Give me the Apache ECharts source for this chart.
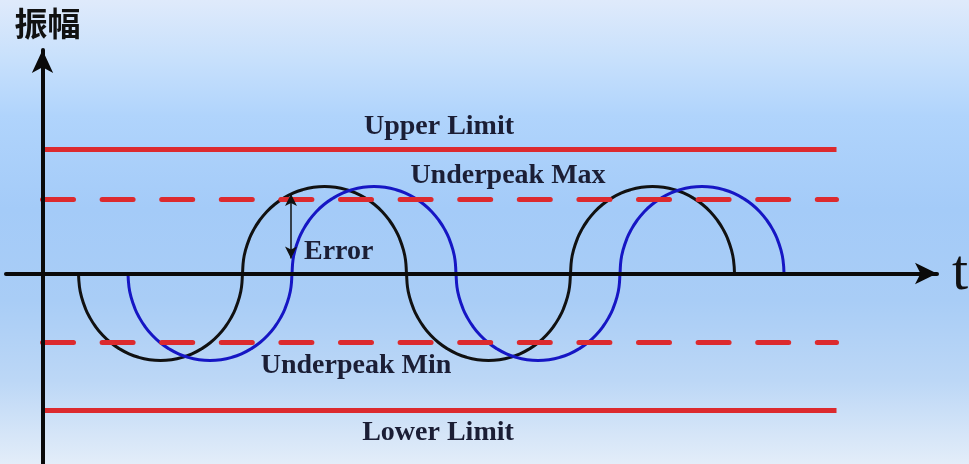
<!DOCTYPE html>
<html>
<head>
<meta charset="utf-8">
<script src="https://cdn.jsdelivr.net/npm/echarts@6/dist/echarts.min.js"></script>
<style>
  html, body { margin: 0; padding: 0; }
  #chart { width: 969px; height: 464px; }
</style>
</head>
<body>
<div id="chart"></div>
<script>
// wave samples: t along the axis, amplitude up/down
var blackT = [
  3.6, 3.7, 3.9, 4.3, 4.7, 5.3, 6.0, 6.8, 7.7, 8.6, 9.6, 10.7, 11.8, 12.9, 14.0, 15.0, 15.9, 16.8, 17.6, 18.3, 18.9, 19.3, 19.7, 19.9, 20.0,
  20.1, 20.3, 20.7, 21.1, 21.7, 22.4, 23.2, 24.1, 25.0, 26.0, 27.1, 28.2, 29.3, 30.4, 31.4, 32.3, 33.2, 34.0, 34.7, 35.3, 35.7, 36.1, 36.3, 36.4,
  36.5, 36.7, 37.1, 37.5, 38.1, 38.8, 39.6, 40.5, 41.4, 42.4, 43.5, 44.6, 45.7, 46.8, 47.8, 48.7, 49.6, 50.4, 51.1, 51.7, 52.1, 52.5, 52.7, 52.8,
  52.9, 53.1, 53.5, 53.9, 54.5, 55.2, 56.0, 56.9, 57.8, 58.8, 59.9, 61.0, 62.1, 63.2, 64.2, 65.1, 66.0, 66.8, 67.5, 68.1, 68.5, 68.9, 69.1, 69.2
];
var blackAmp = [
  0, -1.36, -2.33, -3.52, -4.35, -5.30, -6.15, -6.90, -7.53, -8.01, -8.38, -8.62, -8.70, -8.62, -8.38, -8.01, -7.53, -6.90, -6.15, -5.30, -4.35, -3.52, -2.33, -1.36, 0,
  1.36, 2.33, 3.52, 4.35, 5.30, 6.15, 6.90, 7.53, 8.01, 8.38, 8.62, 8.70, 8.62, 8.38, 8.01, 7.53, 6.90, 6.15, 5.30, 4.35, 3.52, 2.33, 1.36, 0,
  -1.36, -2.33, -3.52, -4.35, -5.30, -6.15, -6.90, -7.53, -8.01, -8.38, -8.62, -8.70, -8.62, -8.38, -8.01, -7.53, -6.90, -6.15, -5.30, -4.35, -3.52, -2.33, -1.36, 0,
  1.36, 2.33, 3.52, 4.35, 5.30, 6.15, 6.90, 7.53, 8.01, 8.38, 8.62, 8.70, 8.62, 8.38, 8.01, 7.53, 6.90, 6.15, 5.30, 4.35, 3.52, 2.33, 1.36, 0
];
var blueT = [
  8.55, 8.65, 8.85, 9.25, 9.65, 10.25, 10.95, 11.75, 12.65, 13.55, 14.55, 15.65, 16.75, 17.85, 18.95, 19.95, 20.85, 21.75, 22.55, 23.25, 23.85, 24.25, 24.65, 24.85, 24.95,
  25.05, 25.25, 25.65, 26.05, 26.65, 27.35, 28.15, 29.05, 29.95, 30.95, 32.05, 33.15, 34.25, 35.35, 36.35, 37.25, 38.15, 38.95, 39.65, 40.25, 40.65, 41.05, 41.25, 41.35,
  41.45, 41.65, 42.05, 42.45, 43.05, 43.75, 44.55, 45.45, 46.35, 47.35, 48.45, 49.55, 50.65, 51.75, 52.75, 53.65, 54.55, 55.35, 56.05, 56.65, 57.05, 57.45, 57.65, 57.75,
  57.85, 58.05, 58.45, 58.85, 59.45, 60.15, 60.95, 61.85, 62.75, 63.75, 64.85, 65.95, 67.05, 68.15, 69.15, 70.05, 70.95, 71.75, 72.45, 73.05, 73.45, 73.85, 74.05, 74.15
];
var blueAmp = [
  0, -1.36, -2.33, -3.52, -4.35, -5.30, -6.15, -6.90, -7.53, -8.01, -8.38, -8.62, -8.70, -8.62, -8.38, -8.01, -7.53, -6.90, -6.15, -5.30, -4.35, -3.52, -2.33, -1.36, 0,
  1.36, 2.33, 3.52, 4.35, 5.30, 6.15, 6.90, 7.53, 8.01, 8.38, 8.62, 8.70, 8.62, 8.38, 8.01, 7.53, 6.90, 6.15, 5.30, 4.35, 3.52, 2.33, 1.36, 0,
  -1.36, -2.33, -3.52, -4.35, -5.30, -6.15, -6.90, -7.53, -8.01, -8.38, -8.62, -8.70, -8.62, -8.38, -8.01, -7.53, -6.90, -6.15, -5.30, -4.35, -3.52, -2.33, -1.36, 0,
  1.36, 2.33, 3.52, 4.35, 5.30, 6.15, 6.90, 7.53, 8.01, 8.38, 8.62, 8.70, 8.62, 8.38, 8.01, 7.53, 6.90, 6.15, 5.30, 4.35, 3.52, 2.33, 1.36, 0
];

var limitNames = ['Upper Limit', 'Underpeak Max', 'Underpeak Min', 'Lower Limit'];
var limitValues = [12.4, 7.4, -6.9, -13.7];
var limitDashed = [false, true, true, false];
var limitSpan = [0, 79.4];

// the "Error" arrow between the two curves
var errorT = 24.85;
var errorRange = [7.95, 1.5];

function pairs(xs, ys) {
  return xs.map(function (x, i) {
    return [x, ys[i]];
  });
}

var chart = echarts.init(document.getElementById('chart'));

var series = [];
limitValues.forEach(function (v, i) {
  series.push({
    name: limitNames[i],
    type: 'line',
    z: 4,
    silent: true,
    symbol: 'none',
    data: [[limitSpan[0], v], [limitSpan[1], v]],
    lineStyle: {
      color: '#dc2a2e',
      width: 5,
      type: limitDashed[i] ? [31, 28.6] : 'solid',
      cap: limitDashed[i] ? 'round' : 'butt'
    }
  });
});

series.push({
  name: 'reference',
  type: 'line',
  z: 3,
  silent: true,
  smooth: 0.5,
  symbol: 'none',
  data: pairs(blackT, blackAmp),
  lineStyle: {color: '#111111', width: 3},
  markLine: {
    silent: true,
    symbol: ['arrow', 'arrow'],
    symbolSize: [9, 12],
    label: {show: false},
    lineStyle: {color: '#111111', width: 1.5, type: 'solid'},
    data: [[{coord: [errorT, errorRange[0]]}, {coord: [errorT, errorRange[1]]}]]
  }
});

series.push({
  name: 'measured',
  type: 'line',
  z: 3,
  silent: true,
  smooth: 0.5,
  symbol: 'none',
  data: pairs(blueT, blueAmp),
  lineStyle: {color: '#1616c4', width: 3}
});

var labelFont = 'bold 28px "Liberation Serif", "Times New Roman", serif';
var labelColor = '#1b1e35';

chart.setOption({
  animation: false,
  backgroundColor: {
    type: 'linear', x: 0, y: 0, x2: 0, y2: 1,
    colorStops: [
      {offset: 0, color: '#dfeafb'},
      {offset: 0.12, color: '#c9e1fc'},
      {offset: 0.25, color: '#b0d4fc'},
      {offset: 0.45, color: '#a4cbf8'},
      {offset: 0.65, color: '#a9cdf6'},
      {offset: 0.82, color: '#bcd7f6'},
      {offset: 1, color: '#e3edf9'}
    ]
  },
  grid: {
    left: 6,
    right: 32,
    top: 50,
    bottom: 0.5,
    containLabel: false,
    outerBoundsMode: 'none'
  },
  xAxis: {
    type: 'value',
    min: -3.65,
    max: 89.45,
    z: 10,
    name: 't',
    nameLocation: 'end',
    nameGap: 15,
    nameTextStyle: {
      fontFamily: '"Liberation Serif", serif',
      fontSize: 58,
      color: '#111111',
      padding: [0, 0, 6, 0]
    },
    axisLine: {
      onZero: true,
      symbol: ['none', 'arrow'],
      symbolSize: [16, 22],
      lineStyle: {color: '#0a0a0a', width: 4}
    },
    axisTick: {show: false},
    axisLabel: {show: false},
    splitLine: {show: false}
  },
  yAxis: {
    type: 'value',
    min: -19,
    max: 22.35,
    z: 10,
    name: '振幅',
    nameLocation: 'end',
    nameGap: 10,
    nameTextStyle: {
      fontFamily: '"Noto Sans CJK SC", sans-serif',
      fontSize: 33,
      fontWeight: 'bold',
      color: '#111111',
      padding: [0, 0, 0, 10]
    },
    axisLine: {
      onZero: true,
      symbol: ['none', 'arrow'],
      symbolSize: [16, 23],
      lineStyle: {color: '#0a0a0a', width: 4}
    },
    axisTick: {show: false},
    axisLabel: {show: false},
    splitLine: {show: false}
  },
  graphic: [
    {type: 'text', x: 439, y: 126.5, z: 20, silent: true,
      style: {text: 'Upper Limit', font: labelFont, fill: labelColor, align: 'center', verticalAlign: 'middle'}},
    {type: 'text', x: 508, y: 175.5, z: 20, silent: true,
      style: {text: 'Underpeak Max', font: labelFont, fill: labelColor, align: 'center', verticalAlign: 'middle'}},
    {type: 'text', x: 304, y: 251.5, z: 20, silent: true,
      style: {text: 'Error', font: labelFont, fill: labelColor, align: 'left', verticalAlign: 'middle'}},
    {type: 'text', x: 356, y: 365.5, z: 20, silent: true,
      style: {text: 'Underpeak Min', font: labelFont, fill: labelColor, align: 'center', verticalAlign: 'middle'}},
    {type: 'text', x: 438, y: 432.5, z: 20, silent: true,
      style: {text: 'Lower Limit', font: labelFont, fill: labelColor, align: 'center', verticalAlign: 'middle'}}
  ],
  series: series
});
</script>
</body>
</html>
